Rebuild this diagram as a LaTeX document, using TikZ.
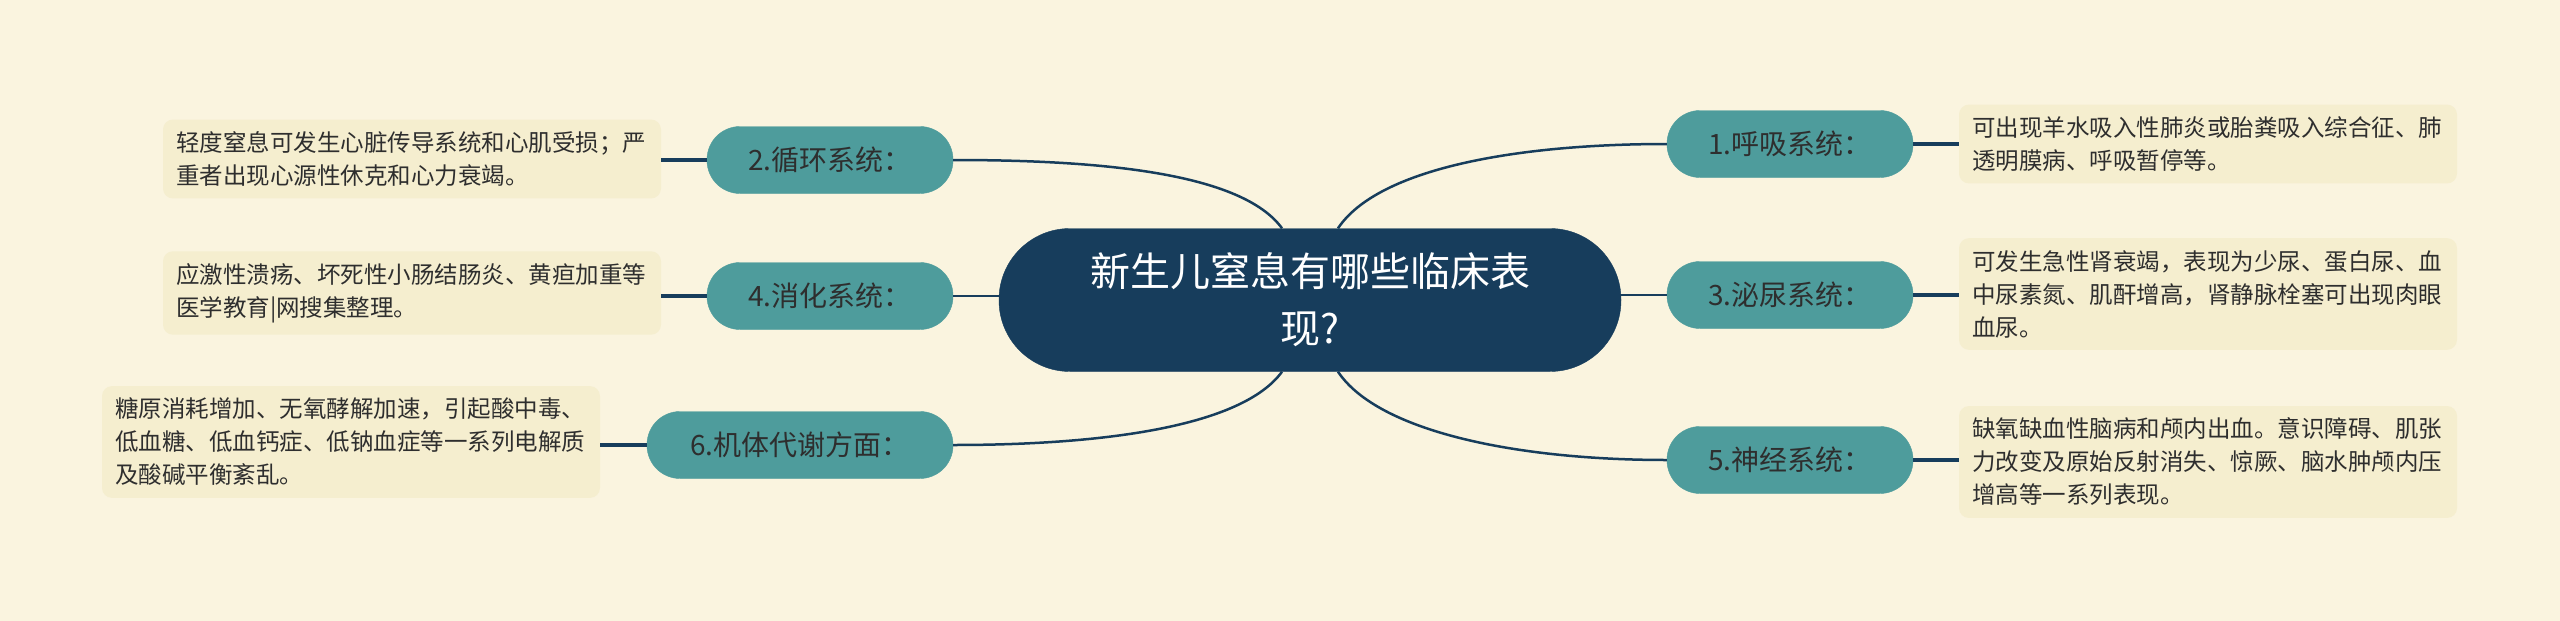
\documentclass[tikz,border=0pt]{standalone}
\usepackage{fontspec}
\setmainfont{Noto Sans CJK SC}
\usetikzlibrary{positioning}
\definecolor{bgcol}{HTML}{FAF4DF}
\definecolor{navy}{HTML}{173D5C}
\definecolor{teal}{HTML}{4E9C9C}
\definecolor{leafcol}{HTML}{F5EECF}
\definecolor{txt}{HTML}{2E2E2E}
\tikzset{
  centre/.style={fill=navy, draw=navy, rounded corners=71pt, minimum width=622pt, minimum height=143pt,
    text=white, align=center, font=\fontsize{40pt}{57pt}\selectfont},
  topic/.style={fill=teal, draw=teal, rounded corners=33pt, minimum height=67pt, minimum width=246pt,
    text=txt, font=\fontsize{28pt}{32pt}\selectfont},
  leaf/.style={fill=leafcol, rounded corners=10pt, text width=472pt, align=left, inner xsep=13pt,
    inner ysep=12pt, text=txt, font=\fontsize{23.5pt}{33pt}\selectfont},
  link/.style={draw=navy, line width=2.5pt},
  twig/.style={draw=navy, line width=4pt}
}
\begin{document}
\begin{tikzpicture}[x=1pt,y=-1pt]
\def\xl {830}   % x of left topics
\def\xr {1790}  % x of right topics
\def\bend {28}  % shift of the curved links from the centre
% background:
 \fill[bgcol] (0,0) rectangle (2560,621);
 \useasboundingbox (0,0) rectangle (2560,621);
% centre:
 \node[centre] (ctr) at (1310,300) {新生儿窒息有哪些临床表\\现?};
% topics:
 \node[topic] (t1) at (\xr,144) {1.呼吸系统：};
 \node[topic] (t2) at (\xl,160) {2.循环系统：};
 \node[topic] (t3) at (\xr,295) {3.泌尿系统：};
 \node[topic] (t4) at (\xl,296) {4.消化系统：};
 \node[topic] (t5) at (\xr,460) {5.神经系统：};
 \node[topic, minimum width=306pt] (t6) at (800,445) {6.机体代谢方面：};
% leaves:
 \node[leaf] (l1) at (2208,144) {可出现羊水吸入性肺炎或胎粪吸入综合征、肺\\透明膜病、呼吸暂停等。};
 \node[leaf] (l2) at (412,159) {轻度窒息可发生心脏传导系统和心肌受损；严\\重者出现心源性休克和心力衰竭。};
 \node[leaf] (l3) at (2208,294) {可发生急性肾衰竭，表现为少尿、蛋白尿、血\\中尿素氮、肌酐增高，肾静脉栓塞可出现肉眼\\血尿。};
 \node[leaf] (l4) at (412,293) {应激性溃疡、坏死性小肠结肠炎、黄疸加重等\\医学教育|网搜集整理。};
 \node[leaf] (l5) at (2208,462) {缺氧缺血性脑病和颅内出血。意识障碍、肌张\\力改变及原始反射消失、惊厥、脑水肿颅内压\\增高等一系列表现。};
 \node[leaf] (l6) at (351,442) {糖原消耗增加、无氧酵解加速，引起酸中毒、\\低血糖、低血钙症、低钠血症等一系列电解质\\及酸碱平衡紊乱。};
% links:
 \draw[link] ([xshift=-\bend pt]ctr.north) .. controls +(-40,-55) and +(150,0) .. (t2.east);
 \draw[link] (t4.east) -- (ctr.west |- t4.east);
 \draw[link] ([xshift=-\bend pt]ctr.south) .. controls +(-40,55) and +(150,0) .. (t6.east);
 \draw[link] ([xshift=\bend pt]ctr.north) .. controls +(40,-60) and +(-150,0) .. (t1.west);
 \draw[link] (t3.west) -- (ctr.east |- t3.west);
 \draw[link] ([xshift=\bend pt]ctr.south) .. controls +(40,60) and +(-150,0) .. (t5.west);
% twigs:
 \foreach \t/\l in {t1/l1,t3/l3,t5/l5}
   \draw[twig] (\t.east) -- (\l.west |- \t.east);
 \foreach \t/\l in {t2/l2,t4/l4,t6/l6}
   \draw[twig] (\t.west) -- (\l.east |- \t.west);
\end{tikzpicture}
\end{document}
